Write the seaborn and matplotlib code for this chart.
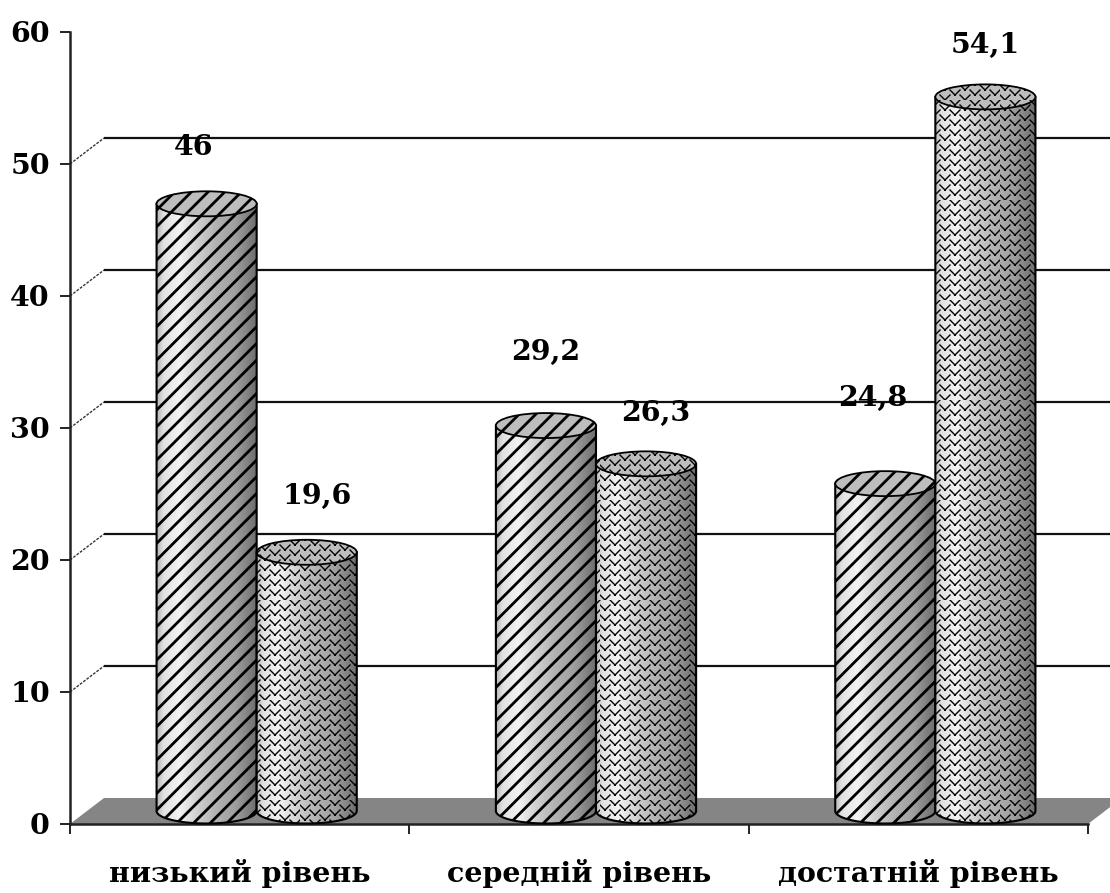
import warnings
import matplotlib
matplotlib.use("Agg")
import matplotlib.pyplot as plt
import matplotlib.hatch as mhatch
from matplotlib.patches import Ellipse, Polygon, Rectangle, PathPatch
from matplotlib.path import Path
from matplotlib.transforms import Affine2D, IdentityTransform, TransformedPath
import numpy as np
import pandas as pd
import seaborn as sns

warnings.filterwarnings("ignore")

categories = ["низький рівень", "середній рівень", "достатній рівень"]
series_a = [46, 29.2, 24.8]
series_b = [19.6, 26.3, 54.1]
series_names = ["a", "b"]
value_labels_a = ["46", "29,2", "24,8"]
value_labels_b = ["19,6", "26,3", "54,1"]
y_ticks = [0, 10, 20, 30, 40, 50, 60]
grid_levels = [10, 20, 30, 40, 50]

# Label offsets from each cylinder's top, in pixels
nudge_a = [(-13, 56), (0, 73), (-13, 85)]
nudge_b = [(10, 56), (10, 50), (0, 51)]


class Stripes(mhatch.HatchPatternBase):
    """Diagonal stripes with a whole number of repeats per tile, so tiles join cleanly."""

    def __init__(self, hatch, density):
        self.num_lines = 12 * hatch.count("s")
        self.num_vertices = (self.num_lines + 1) * 2

    def set_vertices_and_codes(self, vertices, codes):
        steps = np.linspace(-0.5, 0.5, self.num_lines + 1)
        vertices[0::2, 0] = 0.0 + steps
        vertices[0::2, 1] = 0.0 - steps
        vertices[1::2, 0] = 1.0 + steps
        vertices[1::2, 1] = 1.0 - steps
        codes[0::2] = Path.MOVETO
        codes[1::2] = Path.LINETO


class Herringbone(mhatch.HatchPatternBase):
    """Staggered columns of nested chevrons for the woven fill."""

    cells = 5
    offsets = [(0.0, 0.0), (0.5, 0.25), (0.0, 0.5), (0.5, 0.75)]

    def __init__(self, hatch, density):
        self.active = hatch.count("w") > 0
        self.num_vertices = self.cells ** 2 * len(self.offsets) * 4 if self.active else 0

    def set_vertices_and_codes(self, vertices, codes):
        if not self.active:
            return
        step = 1.0 / self.cells
        pts, cmds = [], []
        for i in range(self.cells):
            for j in range(self.cells):
                for ox, oy in self.offsets:
                    x = (i + ox) * step
                    y = (j + oy) * step
                    pts += [(x, y + 0.25 * step), (x + 0.25 * step, y),
                            (x + 0.25 * step, y), (x + 0.5 * step, y + 0.25 * step)]
                    cmds += [Path.MOVETO, Path.LINETO, Path.MOVETO, Path.LINETO]
        vertices[:] = pts
        codes[:] = cmds


mhatch._hatch_types.extend([Stripes, Herringbone])

sns.set_theme(style="white", rc={"hatch.linewidth": 2.0, "hatch.color": "black"})
NUM_FONT = "DejaVu Serif"

fig = plt.figure(figsize=(11.1, 8.93), dpi=100)
fig_h = 893
ax = fig.add_axes([70 / 1110, (fig_h - 824) / fig_h, 1018 / 1110, 792 / fig_h])

frame = pd.DataFrame({
    "category": categories * 2,
    "series": [series_names[0]] * 3 + [series_names[1]] * 3,
    "value": series_a + series_b,
})
sns.barplot(data=frame, x="category", y="value", hue="series", order=categories,
            hue_order=series_names, width=0.59, gap=0, dodge=True, legend=False,
            color="white", saturation=1, errorbar=None, ax=ax, zorder=4)

ax.set_xlim(-0.5, 2.5)
ax.set_ylim(0, 60)
ax.set_xlabel("")
ax.set_ylabel("")
ax.set_facecolor("none")

for name in ("top", "right"):
    ax.spines[name].set_visible(False)
for name in ("left", "bottom"):
    ax.spines[name].set_color("#222222")
    ax.spines[name].set_linewidth(1.8)

ax.set_yticks(y_ticks)
ax.set_yticklabels([str(t) for t in y_ticks], family=NUM_FONT, fontweight="bold",
                   fontsize=20.5, color="black")
ax.tick_params(axis="y", length=7.5, width=1.4, color="#222222", pad=7, left=True)
ax.set_xticks([-0.5, 0.5, 1.5, 2.5])
ax.set_xticklabels([])
ax.tick_params(axis="x", which="major", length=7.5, width=1.4, color="#222222", bottom=True)
ax.set_xticks([0, 1, 2], minor=True)
ax.set_xticklabels(categories, minor=True, family="DejaVu Serif", fontweight="bold",
                   fontsize=20.5, color="black")
ax.tick_params(axis="x", which="minor", length=0, pad=25)

# Depth offsets of the pseudo-3D box, in pixels
back_shift = Affine2D().translate(34, 26)
mid_shift = Affine2D().translate(17, 13)
to_back = ax.transData + back_shift
to_mid = ax.transData + mid_shift

# Floor of the box, running off the right edge of the canvas
floor_front = ax.transData.transform([(-0.5, 0), (2.5, 0)])
floor_back = to_back.transform([(2.5, 0), (-0.5, 0)])
ax.add_patch(Polygon(np.vstack([floor_front, floor_back]), closed=True,
                     transform=IdentityTransform(), facecolor="#858585",
                     edgecolor="none", zorder=1, clip_on=False))

# Back wall rules and their diagonal returns to the axis
for level in grid_levels:
    ax.plot([-0.5, 2.62], [level, level], color="#111111", lw=1.6,
            transform=to_back, clip_on=False, zorder=2, solid_capstyle="butt")
    start = ax.transData.transform((-0.5, level))
    end = to_back.transform((-0.5, level))
    ax.plot([start[0], end[0]], [start[1], end[1]], color="#333333", lw=1.0,
            ls=(0, (2, 1)), transform=IdentityTransform(), clip_on=False, zorder=2)

cap_half = 12.5 / (792 / 60)
shade_x = np.array([0.0, 0.06, 0.22, 0.42, 0.58, 0.78, 1.0])
shade_v = np.array([0.72, 0.88, 0.95, 0.80, 0.70, 0.62, 0.42])
shade = np.interp(np.linspace(0, 1, 128), shade_x, shade_v).reshape(1, -1)

bars = [b for b in ax.patches if isinstance(b, Rectangle) and b.get_height() > 0]
bars.sort(key=lambda b: b.get_x())
labels = [v for pair in zip(value_labels_a, value_labels_b) for v in pair]
nudges = [v for pair in zip(nudge_a, nudge_b) for v in pair]

for idx, bar in enumerate(bars):
    x0, w, h = bar.get_x(), bar.get_width(), bar.get_height()
    cx = x0 + w / 2
    woven = idx % 2 == 1
    pattern = "w" if woven else "s"
    hatch_lw = 1.0 if woven else 2.0
    order = 4 + idx * 0.1

    # Silhouette: straight sides and a rounded foot
    t = np.linspace(np.pi, 2 * np.pi, 40)
    outline = [(x0, h)] + [(cx + w / 2 * np.cos(a), cap_half * np.sin(a)) for a in t] + [(x0 + w, h), (x0, h)]
    body_path = Path(outline, closed=True)

    img = ax.imshow(shade, cmap="gray", vmin=0, vmax=1, aspect="auto",
                    extent=(x0, x0 + w, -cap_half, h), transform=to_mid,
                    zorder=order, interpolation="bilinear")
    img.set_clip_path(TransformedPath(body_path, to_mid))

    body = PathPatch(body_path, facecolor="none", edgecolor="black", hatch=pattern,
                     lw=1.5, transform=to_mid, clip_on=False, zorder=order + 0.01)
    cap = Ellipse((cx, h), w, 2 * cap_half, facecolor="#bdbdbd", edgecolor="black",
                  hatch=pattern, lw=1.3, transform=to_mid, clip_on=False,
                  zorder=order + 0.02)
    for part in (body, cap):
        part.set_hatch_linewidth(hatch_lw)
        ax.add_patch(part)
    bar.set_visible(False)

    top = to_mid.transform((cx, h))
    dx, dy = nudges[idx]
    ax.text(top[0] + dx, top[1] + dy, labels[idx], transform=IdentityTransform(),
            family=NUM_FONT, fontweight="bold", fontsize=20.5, color="black",
            ha="center", va="center", zorder=9)

ax.set_xlim(-0.5, 2.5)
ax.set_ylim(0, 60)
fig.savefig("out.png", dpi=100, facecolor="white")
